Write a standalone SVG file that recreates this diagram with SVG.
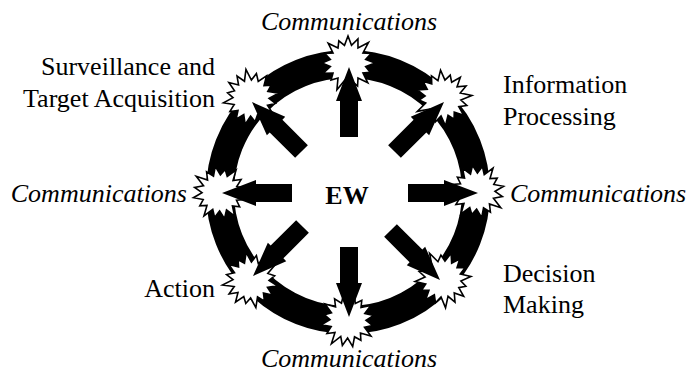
<svg xmlns="http://www.w3.org/2000/svg" xmlns:xlink="http://www.w3.org/1999/xlink" width="689" height="372" viewBox="0 0 689 372">
<style>
  .lbl { font-family: "Liberation Serif", "Times New Roman", serif; font-size: 26px; fill: #000; }
  .it { font-style: italic; }
  .burst { fill: #fff; stroke: #000; stroke-width: 1.6; stroke-linejoin: miter; }
  .arrow { fill: #000; }
</style>
<defs>
  <polygon id="star" points="27,0 17.65,3.51 22.17,9.18 14.97,10 19.8,19.8 10,14.97 9.57,23.1 3.51,17.65 0,26 -3.51,17.65 -11.1,26.79 -10,14.97 -16.97,16.97 -14.97,10 -24.94,10.33 -17.65,3.51 -26,0 -17.65,-3.51 -23.1,-9.57 -14.97,-10 -19.8,-19.8 -10,-14.97 -9.18,-22.17 -3.51,-17.65 0,-27 3.51,-17.65 9.95,-24.02 10,-14.97 20.51,-20.51 14.97,-10 23.1,-9.57 17.65,-3.51"/>
  <path id="arr" d="M0,0 L13,34 L9,34 L9,70 L-9,70 L-9,34 L-13,34 Z"/>
</defs>

<g id="ring">
  <circle cx="348" cy="192" r="128" fill="none" stroke="#000" stroke-width="28"/>
</g>

<g id="bursts">
  <g id="burst-top"><use xlink:href="#star" href="#star" class="burst" transform="translate(348,63)"/></g>
  <g id="burst-topright"><use xlink:href="#star" href="#star" class="burst" transform="translate(443,98) rotate(40)"/></g>
  <g id="burst-right"><use xlink:href="#star" href="#star" class="burst" transform="translate(477,191) rotate(80)"/></g>
  <g id="burst-bottomright"><use xlink:href="#star" href="#star" class="burst" transform="translate(443,279) rotate(130)"/></g>
  <g id="burst-bottom"><use xlink:href="#star" href="#star" class="burst" transform="translate(348,320) rotate(170)"/></g>
  <g id="burst-bottomleft"><use xlink:href="#star" href="#star" class="burst" transform="translate(251,280) rotate(215)"/></g>
  <g id="burst-left"><use xlink:href="#star" href="#star" class="burst" transform="translate(220,193) rotate(260)"/></g>
  <g id="burst-topleft"><use xlink:href="#star" href="#star" class="burst" transform="translate(251,98) rotate(305)"/></g>
</g>

<g id="connectors">
  <use xlink:href="#arr" href="#arr" class="arrow" transform="translate(349,67)"/>
  <use xlink:href="#arr" href="#arr" class="arrow" transform="translate(444,102) rotate(45)"/>
  <use xlink:href="#arr" href="#arr" class="arrow" transform="translate(478,193) rotate(90)"/>
  <use xlink:href="#arr" href="#arr" class="arrow" transform="translate(440,280) rotate(135)"/>
  <use xlink:href="#arr" href="#arr" class="arrow" transform="translate(349,317) rotate(180)"/>
  <use xlink:href="#arr" href="#arr" class="arrow" transform="translate(253,276) rotate(225)"/>
  <use xlink:href="#arr" href="#arr" class="arrow" transform="translate(222,193) rotate(270)"/>
  <use xlink:href="#arr" href="#arr" class="arrow" transform="translate(252,102) rotate(315)"/>
</g>

<g id="center">
  <text class="lbl" x="347" y="204" text-anchor="middle" font-weight="bold">EW</text>
</g>

<g id="label-comm-top"><text class="lbl it" x="349" y="30" text-anchor="middle">Communications</text></g>
<g id="label-comm-bottom"><text class="lbl it" x="349" y="367" text-anchor="middle">Communications</text></g>
<g id="label-comm-left"><text class="lbl it" x="187" y="202" text-anchor="end">Communications</text></g>
<g id="label-comm-right"><text class="lbl it" x="510" y="202">Communications</text></g>
<g id="label-surveillance">
  <text class="lbl" x="215" y="75" text-anchor="end">Surveillance and</text>
  <text class="lbl" x="215" y="107" text-anchor="end">Target Acquisition</text>
</g>
<g id="label-info">
  <text class="lbl" x="503" y="93">Information</text>
  <text class="lbl" x="503" y="125">Processing</text>
</g>
<g id="label-decision">
  <text class="lbl" x="503" y="282">Decision</text>
  <text class="lbl" x="503" y="313">Making</text>
</g>
<g id="label-action"><text class="lbl" x="215" y="297" text-anchor="end">Action</text></g>
</svg>
